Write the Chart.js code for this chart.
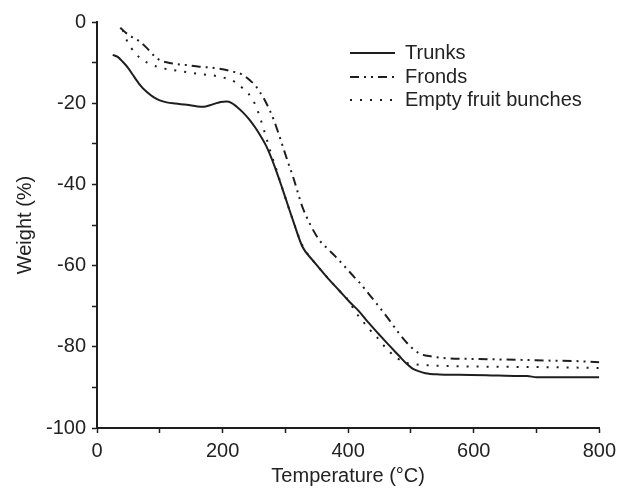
<!DOCTYPE html>
<html>
<head>
<meta charset="utf-8">
<script src="https://cdn.jsdelivr.net/npm/chart.js@4/dist/chart.umd.min.js"></script>
<style>
  html, body { margin: 0; padding: 0; background: #fff; }
  #wrap { width: 622px; height: 488px; position: relative; }
</style>
</head>
<body>
<div id="wrap"><canvas id="c" width="622" height="488"></canvas></div>
<script>
// ---- Data ----
const seriesLabels = ["Trunks", "Fronds", "Empty fruit bunches"];

const trunksT = [25,33,41,50,57,68,79,90,100,111,125,143,160,170,180,188,197,206,214,222,232,243,252,261,270,283,296,312,327,343,355,370,385,402,417,432,449,465,481,492,502,512,523,545,576,620,671,685,700,740,800];
const trunksW = [-8.1,-8.6,-9.8,-11.4,-13,-15.4,-17.2,-18.5,-19.3,-19.8,-20.1,-20.4,-20.8,-20.9,-20.5,-20.1,-19.7,-19.6,-19.9,-20.8,-22.2,-24.1,-26,-28.2,-30.7,-35.6,-41.4,-48.8,-55.3,-58.6,-60.8,-63.5,-66,-68.9,-71.2,-74,-76.9,-79.6,-82.2,-84,-85.3,-86,-86.5,-86.8,-86.9,-87,-87.2,-87.2,-87.5,-87.5,-87.5];

const frondsT = [37,47,57,68,80,90,100,120,142,163,179,195,216,232,243,252,259,267,275,282,289,296,303,312,327,340,354,367,380,395,409,417,433,449,465,481,497,513,533,555,600,671,720,760,800];
const frondsW = [-1.4,-2.8,-3.8,-4.8,-6.5,-8.2,-9.4,-10.2,-10.6,-11,-11.2,-11.5,-12.2,-13,-14.3,-15.6,-17.2,-19.2,-21.7,-24.3,-27.4,-30.7,-34,-38,-45.5,-50,-53.7,-55.8,-57.8,-60.3,-62.7,-64,-67,-70.1,-73.3,-76.7,-79.6,-81.6,-82.4,-82.8,-83,-83.2,-83.4,-83.5,-83.8];

const efbT = [41,47,55,62,68,80,95,115,137,163,190,206,220,232,241,248,254,259,264,269,277,285,296,312,327,343,355,370,385,402,411,422,432,444,455,466,478,490,505,533,580,624,700,800];
const efbW = [-2,-4.4,-6.5,-7.8,-8.8,-10,-11,-11.7,-12.2,-12.8,-13.3,-13.9,-14.8,-16.3,-17.6,-19.2,-21,-23.3,-25.6,-28.2,-32.3,-36,-41.4,-48.8,-55,-58.6,-60.8,-63.5,-66,-68.9,-71.3,-73.4,-75.4,-77.3,-79.4,-81.2,-82.8,-83.8,-84.3,-84.6,-84.8,-84.9,-85,-85.2];

const xMin = 0, xMax = 800, xStep = 100, xLabelEvery = 200;
const yMin = -100, yMax = 0, yStep = 10, yLabelEvery = 20;
const xTitle = "Temperature (°C)";
const yTitle = "Weight (%)";

function pts(xs, ys) { return xs.map((x, i) => ({ x: x, y: ys[i] })); }

const INK = '#1e1e1e';
const FONT = "'Liberation Sans', Arial, sans-serif";

const legendPlugin = {
  id: 'inlineLegend',
  afterDraw(chart) {
    const ctx = chart.ctx;
    const x0 = 350, x1 = 395, tx = 405;
    const ys = [53, 77, 100];
    chart.data.datasets.forEach((ds, i) => {
      ctx.save();
      ctx.strokeStyle = ds.borderColor;
      ctx.lineWidth = ds.borderWidth;
      ctx.setLineDash(ds.borderDash || []);
      ctx.beginPath();
      ctx.moveTo(x0, ys[i]);
      ctx.lineTo(x1, ys[i]);
      ctx.stroke();
      ctx.setLineDash([]);
      ctx.fillStyle = '#222';
      ctx.font = '20px ' + FONT;
      ctx.textBaseline = 'middle';
      ctx.textAlign = 'left';
      ctx.fillText(ds.label, tx, ys[i]);
      ctx.restore();
    });
  }
};

new Chart(document.getElementById('c'), {
  type: 'line',
  data: {
    datasets: [
      { label: seriesLabels[0], data: pts(trunksT, trunksW), borderColor: INK, borderWidth: 2, borderDash: [], pointRadius: 0, cubicInterpolationMode: 'monotone', fill: false },
      { label: seriesLabels[1], data: pts(frondsT, frondsW), borderColor: INK, borderWidth: 2, borderDash: [9, 5, 2, 5, 2, 5], pointRadius: 0, cubicInterpolationMode: 'monotone', fill: false },
      { label: seriesLabels[2], data: pts(efbT, efbW), borderColor: INK, borderWidth: 2, borderDash: [2, 8], pointRadius: 0, cubicInterpolationMode: 'monotone', fill: false }
    ]
  },
  options: {
    responsive: false,
    animation: false,
    devicePixelRatio: 1,
    layout: { padding: { top: 22, right: 21, left: 0, bottom: 0 } },
    plugins: { legend: { display: false }, tooltip: { enabled: false } },
    scales: {
      x: {
        type: 'linear', min: xMin, max: xMax,
        afterFit(s) { s.height = 60; },
        ticks: {
          stepSize: xStep, autoSkip: false, maxRotation: 0, padding: 6,
          color: '#222', font: { size: 20, family: FONT },
          callback: v => (v % xLabelEvery === 0 ? String(v) : '')
        },
        grid: { drawOnChartArea: false, drawTicks: true, tickLength: 5, tickColor: INK, tickWidth: 1.5 },
        border: { display: true, color: INK, width: 2 },
        title: { display: true, text: xTitle, color: '#222', font: { size: 20, family: FONT }, padding: { top: 0, bottom: 0 } }
      },
      y: {
        type: 'linear', min: yMin, max: yMax,
        afterFit(s) { s.width = 97; },
        ticks: {
          stepSize: yStep, autoSkip: false, padding: 6,
          color: '#222', font: { size: 20, family: FONT },
          callback: v => (v % yLabelEvery === 0 ? String(v) : '')
        },
        grid: { drawOnChartArea: false, drawTicks: true, tickLength: 5, tickColor: INK, tickWidth: 1.5 },
        border: { display: true, color: INK, width: 2 },
        title: { display: true, text: yTitle, color: '#222', font: { size: 20, family: FONT }, padding: { top: 13, bottom: 0 } }
      }
    }
  },
  plugins: [legendPlugin]
});
</script>
</body>
</html>
